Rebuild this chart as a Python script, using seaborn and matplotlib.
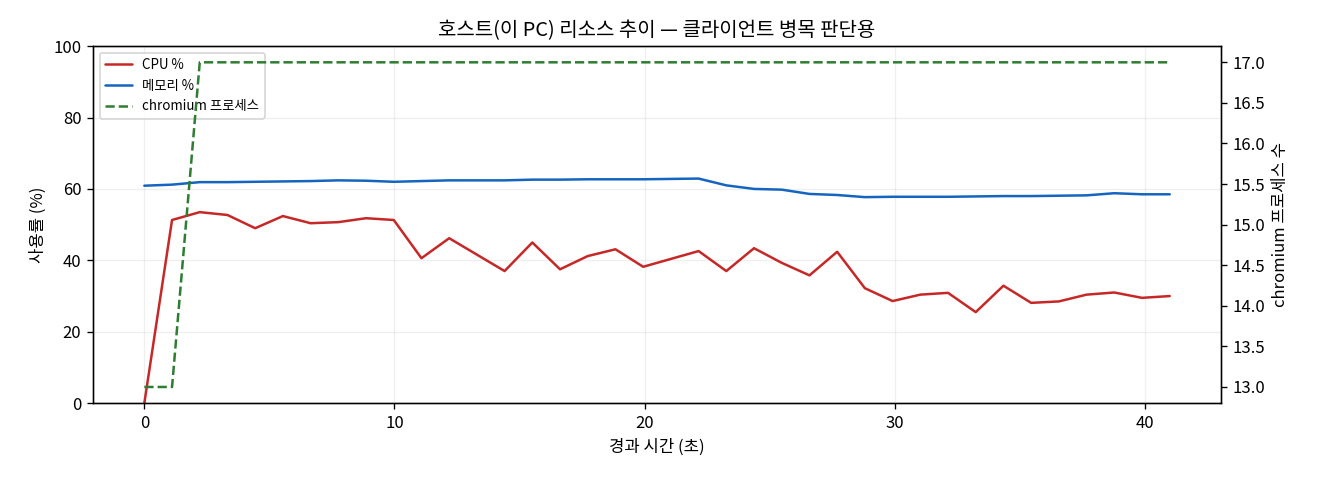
import numpy as np
import pandas as pd
import seaborn as sns
import matplotlib
matplotlib.use("Agg")
import matplotlib.pyplot as plt

# 샘플 시각 (초)
elapsed = [round(i * 1.108, 3) for i in range(38)]

cpu_pct = [0.0, 51.3, 53.5, 52.7, 49.0, 52.4, 50.4, 50.7, 51.8, 51.3,
           40.6, 46.2, 41.6, 37.0, 45.0, 37.5, 41.2, 43.1, 38.2, 40.4,
           42.6, 37.0, 43.4, 39.3, 35.8, 42.4, 32.2, 28.6, 30.4, 30.9,
           25.5, 32.9, 28.1, 28.5, 30.4, 31.0, 29.5, 30.0]

mem_pct = [60.9, 61.2, 61.9, 61.9, 62.0, 62.1, 62.2, 62.4, 62.3, 62.0,
           62.2, 62.4, 62.4, 62.4, 62.6, 62.6, 62.7, 62.7, 62.7, 62.8,
           62.9, 61.0, 60.0, 59.8, 58.6, 58.3, 57.7, 57.8, 57.8, 57.8,
           57.9, 58.0, 58.0, 58.1, 58.2, 58.8, 58.5, 58.5]

chromium_procs = [13, 13] + [17] * 36

df = pd.DataFrame({"t": elapsed, "cpu": cpu_pct, "mem": mem_pct, "procs": chromium_procs})

# matplotlib 기본 스타일 유지 (검은 테두리)
sns.set_style("white", {"axes.edgecolor": "black", "text.color": "black",
                        "xtick.color": "black", "ytick.color": "black",
                        "axes.labelcolor": "black"})
plt.rcParams['font.family'] = ['Noto Sans CJK KR', 'DejaVu Sans']
plt.rcParams['axes.unicode_minus'] = False

fig, ax = plt.subplots(figsize=(11, 4), dpi=120)
sns.lineplot(data=df, x="t", y="cpu", ax=ax, color="#c62828", lw=1.5, label="CPU %")
sns.lineplot(data=df, x="t", y="mem", ax=ax, color="#1565c0", lw=1.5, label="메모리 %")
ax.set_ylim(0, 100)
ax.set_xlabel("경과 시간 (초)")
ax.set_ylabel("사용률 (%)")
ax.grid(True, alpha=0.3)
ax.tick_params(left=True, bottom=True)

ax2 = ax.twinx()
sns.lineplot(data=df, x="t", y="procs", ax=ax2, color="#2e7d32", lw=1.5,
             linestyle="--", label="chromium 프로세스")
ax2.set_ylabel("chromium 프로세스 수")
ax2.tick_params(right=True)

h1, l1 = ax.get_legend_handles_labels()
h2, l2 = ax2.get_legend_handles_labels()
ax2.get_legend().remove()
ax.legend(h1 + h2, l1 + l2, loc="upper left", fontsize=8)

ax.set_title("호스트(이 PC) 리소스 추이 — 클라이언트 병목 판단용")
fig.subplots_adjust(left=0.0705, right=0.925, top=0.904, bottom=0.16)
fig.savefig("out.png")
